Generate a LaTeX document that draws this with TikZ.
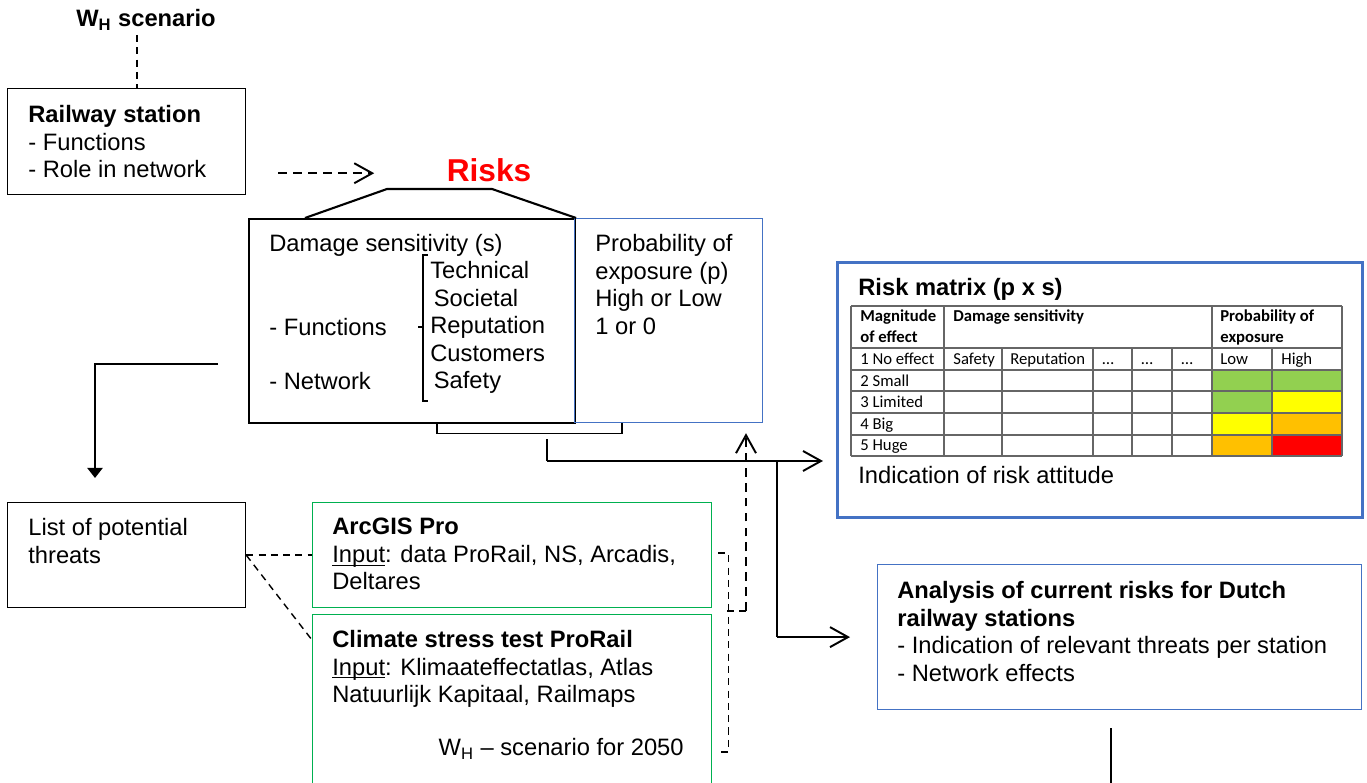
\documentclass[tikz,border=0pt]{standalone}
\usepackage{fontspec}
\setmainfont{Liberation Sans}
\newfontfamily\calibri{Carlito}
\usepackage{tikz}
\usetikzlibrary{calc,arrows.meta}

\definecolor{myblue}{HTML}{4472C4}
\definecolor{mygreen}{HTML}{00B050}
\definecolor{cgreen}{HTML}{92D050}
\definecolor{cyellow}{HTML}{FFFF00}
\definecolor{corange}{HTML}{FFC000}
\definecolor{cred}{HTML}{FF0000}
\newcommand\myul[1]{\setbox0\hbox{#1}\rlap{\rule[-1.8pt]{\wd0}{0.6pt}}#1}

\begin{document}
\begin{tikzpicture}[
  x=0.02cm, y=-0.02cm,
  font=\fontsize{13.5}{15.65}\selectfont,
  mybox/.style 2 args={draw,anchor=north west,inner sep=0pt,line width=0.7pt,
    minimum width=#1*0.02cm,minimum height=#2*0.02cm},
  mytext/.style={anchor=north west,align=left,inner sep=0pt},
  mycell/.style={anchor=base west,inner sep=0pt,font=\calibri\fontsize{9.5}{11}\selectfont},
  mycellb/.style={anchor=base west,inner sep=0pt,font=\calibri\bfseries\fontsize{9.5}{11}\selectfont},
  mygrid/.style={draw=black!60,line width=0.8pt},
  mydash/.style={dash pattern=on 4pt off 3pt,line width=0.8pt},
  mydashb/.style={dash pattern=on 5pt off 3.5pt,line width=1.1pt},
  mybarb/.style={-{Straight Barb[length=0.36cm,width=0.4cm]}}
]
\useasboundingbox (0,0) rectangle (1367,783);
\clip (0,0) rectangle (1367,783);

\node[font=\bfseries\fontsize{13.5}{15.65}\selectfont,anchor=base,inner sep=0pt] (wh) at (146,27) {W\textsubscript{H} scenario};
\node[mybox={238}{106}] (st) at (7,88) {};
\node[mytext] (st-t) at (28,105) {\textbf{Railway station}\\- Functions\\- Role in network};

\node[font=\bfseries\fontsize{18}{20}\selectfont,text=red,inner sep=0pt] (risks) at (489,170) {Risks};
\node[mybox={326}{204},line width=1.2pt] (ds) at (248,218) {};
\node[mybox={188}{204},draw=myblue] (pe) at (574,218) {};
\node[mytext] (ds-t) at (269,234) {Damage sensitivity (s)};
\node[mytext] (ds-f) at (269,318) {- Functions};
\node[mytext] (ds-n) at (269,372) {- Network};
\node[mytext] (ds-l) at (430,261) {Technical\\\hspace{2pt}Societal\\Reputation\\Customers\\\hspace{2pt}Safety};
\node[mytext] (pe-t) at (595,234) {Probability of\\exposure (p)\\High or Low\\1 or 0};

\node[mybox={238}{105}] (lt) at (7,502) {};
\node[mytext] (lt-t) at (28,518) {List of potential\\threats};
\node[mybox={399}{105},draw=mygreen] (ag) at (312,502) {};
\node[mytext] (ag-t) at (332,518) {\textbf{ArcGIS Pro}\\\myul{Input}: data ProRail, NS, Arcadis,\\Deltares};
\node[mybox={399}{190},draw=mygreen] (cs) at (312,614) {};
\node[mytext] (cs-t) at (332,630) {\textbf{Climate stress test ProRail}\\\myul{Input}: Klimaateffectatlas, Atlas\\Natuurlijk Kapitaal, Railmaps};
\node[anchor=base east,inner sep=0pt] (cs-w) at (684,756) {W\textsubscript{H} – scenario for 2050};

\node[mybox={525}{255},draw=myblue,line width=1.7pt] (rm) at (836,261) {};
\node[mytext] (rm-t) at (858,278) {\textbf{Risk matrix (p x s)}};
\node[mytext] (rm-f) at (858,466) {Indication of risk attitude};
\node[mybox={484}{145},draw=myblue] (an) at (877,564) {};
\node[mytext] (an-t) at (897,581) {\textbf{Analysis of current risks for Dutch}\\\textbf{railway stations}\\- Indication of relevant threats per station\\- Network effects};

% risk matrix table
\foreach \ya/\yb/\lo/\hi in {370/391/cgreen/cgreen,391/413/cgreen/cyellow,413/435/cyellow/corange,435/456/corange/cred}{
  \fill[\lo] (1212,\ya) rectangle (1272,\yb);
  \fill[\hi] (1272,\ya) rectangle (1342,\yb);
}
\foreach \y in {306,348,370,391,413,435,456}
  \draw[mygrid] (851,\y) -- (1342,\y);
\foreach \x in {851,944,1212,1342}
  \draw[mygrid] (\x,306) -- (\x,456);
\foreach \x in {1002,1093,1132,1172,1272}
  \draw[mygrid] (\x,348) -- (\x,456);
\foreach \t/\x/\y [count=\n] in {Magnitude/860/322,of effect/860/343,Damage sensitivity/953/322,Probability of/1220/322,exposure/1220/343}
  \node[mycellb] (hd\n) at (\x,\y) {\t};
\foreach \t/\x/\y [count=\n] in {1 No effect/860/365,2 Small/860/387,3 Limited/860/408,4 Big/860/430,5 Huge/860/451,Safety/953/365,Reputation/1010/365,…/1102/365,…/1141/365,…/1181/365,Low/1220/365,High/1281/365}
  \node[mycell] (cl\n) at (\x,\y) {\t};

% connectors
\draw[mydash] ($(st.north west)+(130,-53)$) -- ($(st.north west)+(130,0)$);
\draw[mybarb,mydashb] ($(st.south east)+(32,-22)$) -- ++(96,0);
\draw[line width=1.2pt] ($(ds.north west)+(57,0)$) -- ++(82,-29) -- ++(105,0) -- (ds.north east);
\draw[line width=0.6pt] ($(ds.north west)+(180,37)$) -| ++(-5,146) -- ++(5,0);
\draw[line width=0.6pt] ($(ds.north west)+(170,109)$) -- ++(5,0);
\draw[line width=0.6pt] ($(ds.south west)+(189,0)$) |- ($(pe.south west)+(48,10)$) -- ($(pe.south west)+(48,0)$);

\coordinate (bm) at ($(ds.south west)+(299,15)$);
\coordinate (sp) at (777,461);
\draw[line width=0.6pt] (bm) -- (bm |- sp);
\draw[mybarb,line width=1.1pt] (bm |- sp) -- ($(rm.west |- sp)+(-13,0)$);
\draw[line width=0.8pt] (sp) -- (sp |- an.west);
\draw[mybarb,line width=1.1pt] (sp |- an.west) -- ($(an.west)+(-27,0)$);

\coordinate (pj) at (746,611);
\draw[mybarb,mydashb] (pj) -- ($(pj |- pe.south)+(0,10)$);
\draw[mydash] ($(ag.north east)+(6,51)$) -- ++(10,0) |- ($(cs.north east)+(6,138)$);
\draw[mydash] (pj) -- ++(-19,0);

\draw[mydash] (lt.east) -- (lt.east -| ag.west);
\draw[mydash] (lt.east) -- ($(cs.north west)+(0,26)$);

\coordinate (la) at ($(ds.west)+(-30,43)$);
\draw[line width=1.2pt,-{Triangle[length=0.2cm,width=0.3cm]}] (la) -| ($(lt.north west)+(88,-24)$);
\draw[line width=1.2pt] ($(an.south west)+(234,18)$) -- ++(0,80);
\end{tikzpicture}
\end{document}
